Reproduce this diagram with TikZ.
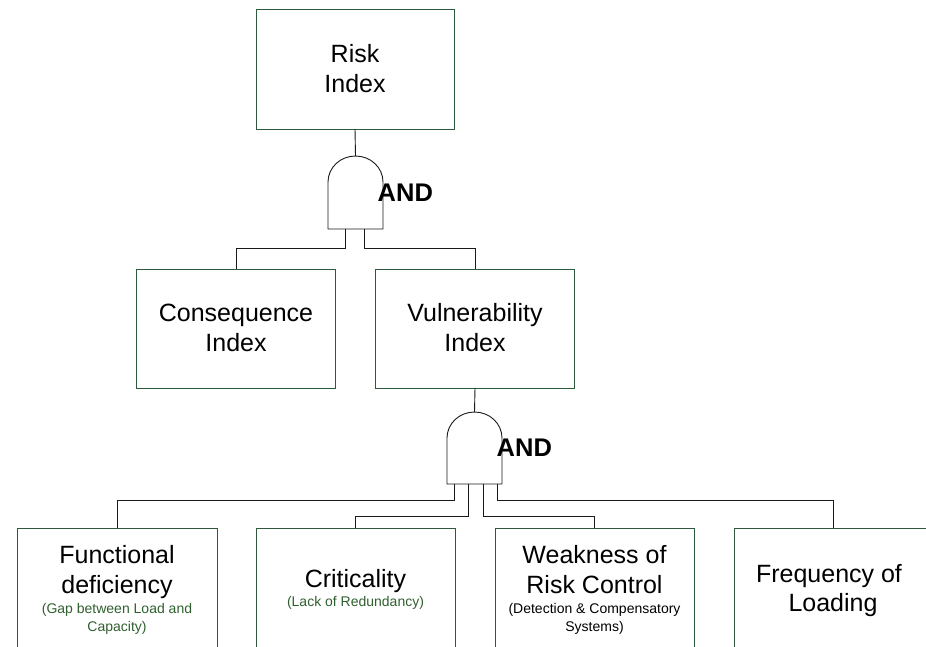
\documentclass[tikz,border=0pt]{standalone}
\usepackage{fontspec}
\setmainfont{Liberation Sans}
\definecolor{boxgreen}{HTML}{2D5A3D}
\definecolor{smallgreen}{HTML}{2F5F2F}
\definecolor{wirecol}{HTML}{1A1A1A}
\begin{document}
\begin{tikzpicture}[x=1pt,y=-1pt,
  box/.style={draw=boxgreen, line width=1pt, anchor=north west, inner sep=0pt, outer sep=0pt},
  big/.style={font=\fontsize{25}{30}\selectfont, anchor=base, inner sep=0pt},
  small/.style={font=\fontsize{14}{18}\selectfont, anchor=base, inner sep=0pt},
  andlbl/.style={font=\bfseries\fontsize{25.5}{30}\selectfont, anchor=base west, inner sep=0pt},
  wire/.style={draw=wirecol, line width=0.9pt},
  gate/.style={draw=wirecol, line width=0.9pt, fill=white}]
\useasboundingbox (0,0) rectangle (926,646);
\clip (0,0) rectangle (926,646);
% boxes
\node[box, minimum width=198pt, minimum height=120pt] (risk) at (256,9) {};
\node[box, minimum width=199pt, minimum height=119pt] (cons) at (136.5,269) {};
\node[box, minimum width=199pt, minimum height=119pt] (vul) at (375.5,269) {};
\node[box, minimum width=200pt, minimum height=200pt] (fun) at (17,528) {};
\node[box, minimum width=199pt, minimum height=200pt] (crit) at (256,528) {};
\node[box, minimum width=199pt, minimum height=200pt] (weak) at (495,528) {};
\node[box, minimum width=199pt, minimum height=200pt] (freq) at (734,528) {};
% texts
\node[big] (riskA) at (355,62) {Risk};
\node[big] (riskB) at (355,92) {Index};
\node[big] (consA) at (236,321.5) {Consequence};
\node[big] (consB) at (236,351.5) {Index};
\node[big] (vulA) at (475,321.5) {Vulnerability};
\node[big] (vulB) at (475,351.5) {Index};
\node[big] (funA) at (117,563) {Functional};
\node[big] (funB) at (117,593) {deficiency};
\node[small, text=smallgreen] (funC) at (117,613) {(Gap between Load and};
\node[small, text=smallgreen] (funD) at (117,631) {Capacity)};
\node[big] (critA) at (355.5,587) {Criticality};
\node[small, text=smallgreen] (critB) at (355.5,606) {(Lack of Redundancy)};
\node[big] (weakA) at (594.5,563) {Weakness of};
\node[big] (weakB) at (594.5,593) {Risk Control};
\node[small] (weakC) at (594.5,613) {(Detection \& Compensatory};
\node[small] (weakD) at (594.5,631) {Systems)};
\node[big] (freqA) at (829,582) {Frequency of};
\node[big] (freqB) at (833,611) {Loading};
% gate 1
\draw[gate] (328,229) -- (328,182) .. controls (328,167.6) and (340.3,156) .. (355.5,156)
  .. controls (370.7,156) and (383,167.6) .. (383,182) -- (383,229) -- cycle;
\coordinate (g1in) at (355.5,156);
\coordinate (g1a) at (345,229);
\coordinate (g1b) at (364.5,229);
\node[andlbl] (and1) at (377.5,201.7) {AND};
% gate 2
\draw[gate] (447,484) -- (447,438) .. controls (447,423.6) and (459.3,412) .. (474.5,412)
  .. controls (489.7,412) and (502,423.6) .. (502,438) -- (502,484) -- cycle;
\coordinate (g2in) at (474.5,412);
\coordinate (g2a) at (454,484);
\coordinate (g2b) at (468,484);
\coordinate (g2c) at (483,484);
\coordinate (g2d) at (497,484);
\node[andlbl] (and2) at (496.5,456) {AND};
% connectors
\draw[wire] (risk.south) -- (g1in);
\draw[wire] (g1a) -- ++(0,19) -| (cons.north);
\draw[wire] (g1b) -- ++(0,19) -| (vul.north);
\draw[wire] (vul.south) -- (g2in);
\draw[wire] (g2a) -- ++(0,16) -| (fun.north);
\draw[wire] (g2b) -- ++(0,32) -| (crit.north);
\draw[wire] (g2c) -- ++(0,32) -| (weak.north);
\draw[wire] (g2d) -- ++(0,16) -| (freq.north);
\end{tikzpicture}
\end{document}
